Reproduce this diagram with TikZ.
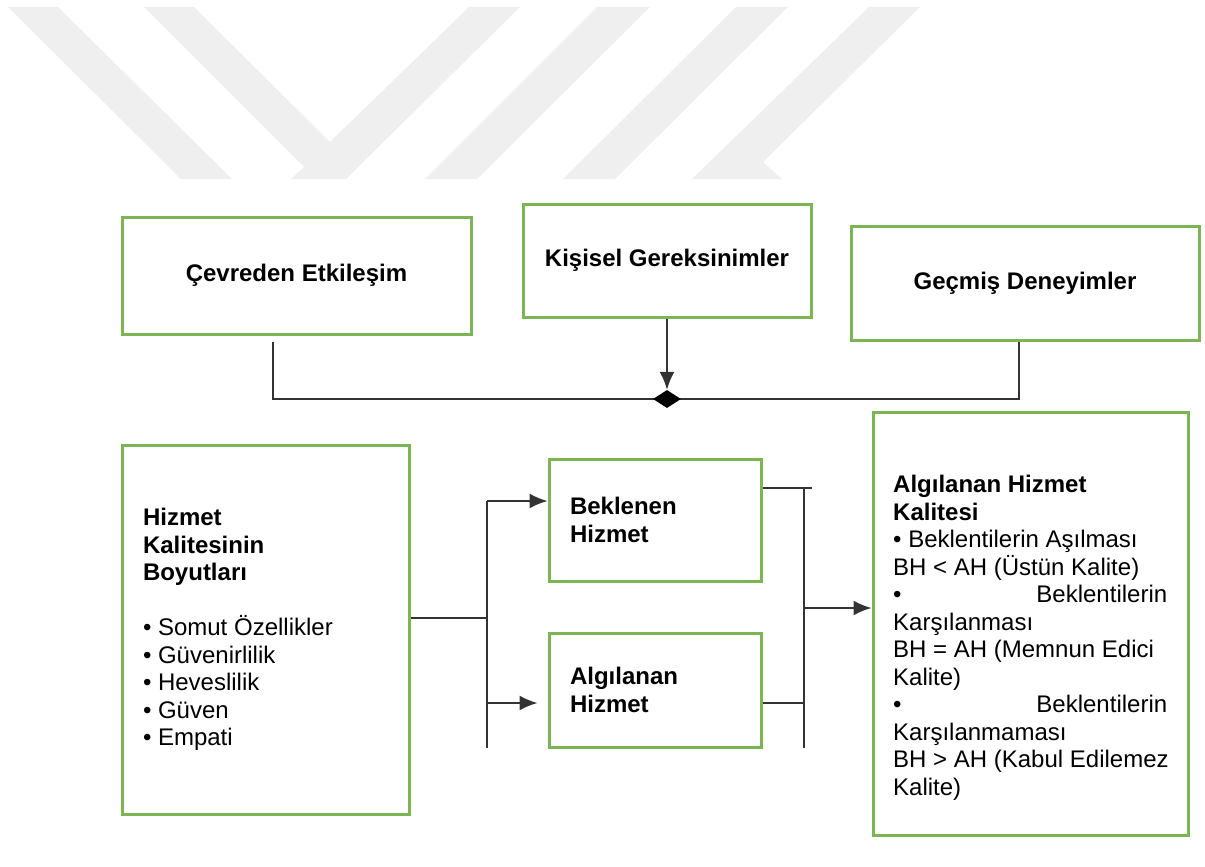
\documentclass[tikz,border=0pt]{standalone}
\usepackage{fontspec}
\setmainfont{Liberation Sans}
\usetikzlibrary{arrows.meta,shapes.geometric}
\definecolor{kutuyesil}{RGB}{122,182,82}
\definecolor{filigran}{RGB}{239,239,239}
\tikzset{
    kutu/.style={draw=kutuyesil, line width=3pt, rectangle, inner sep=0pt},
    yazi/.style={font=\fontsize{24}{27.5}\selectfont},
    baglanti/.style={draw=black!80, line width=1.8pt},
    ok/.style={baglanti, -{Latex[length=18pt,width=15pt]}}
}
\newcommand{\yayik}[1]{\makebox[274pt][s]{#1}}

\begin{document}
\begin{tikzpicture}[x=1pt,y=-1pt]
    \useasboundingbox (0,0) rectangle (1205,867);
    \fill[filigran] (8,7) -- (58,7) -- (232,179) -- (181,179) -- cycle;
    \fill[filigran] (144,7) -- (194,7) -- (330,142) -- (469,7) -- (520,7) -- (346,179) -- (291,179) -- (304,167) -- cycle;
    \fill[filigran] (597,7) -- (650,7) -- (477,179) -- (425,179) -- cycle;
    \fill[filigran] (736,7) -- (788,7) -- (615,179) -- (563,179) -- cycle;
    \fill[filigran] (869,7) -- (920,7) -- (763,162) -- (782,179) -- (692,179) -- cycle;

    \node[kutu, yazi, minimum width=349pt, minimum height=117pt] (cevre) at (296.5,275.5) {\textbf{Çevreden Etkileşim}};
    \node[kutu, yazi, minimum width=288pt, minimum height=113pt] (kisisel) at (667,260.5) {\textbf{Kişisel Gereksinimler}};
    \node[kutu, yazi, minimum width=348pt, minimum height=114pt] (gecmis) at (1025,283) {\textbf{Geçmiş Deneyimler}};

    \node[kutu, yazi, minimum width=287pt, minimum height=369pt, text width=245pt, align=flush left] (boyut) at (265.5,629.5)
        {\textbf{Hizmet}\\ \textbf{Kalitesinin}\\ \textbf{Boyutları}\\[27.5pt]
         \textbullet{} Somut Özellikler\\ \textbullet{} Güvenirlilik\\ \textbullet{} Heveslilik\\ \textbullet{} Güven\\ \textbullet{} Empati};
    \node[kutu, yazi, minimum width=212pt, minimum height=122pt, text width=170pt, align=flush left] (beklenen) at (655,520)
        {\textbf{Beklenen}\\ \textbf{Hizmet}};
    \node[kutu, yazi, minimum width=212pt, minimum height=114pt, text width=170pt, align=flush left] (algilanan) at (655,690)
        {\textbf{Algılanan}\\ \textbf{Hizmet}};
    \node[kutu, minimum width=315pt, minimum height=423pt] (kalite) at (1030.5,623.5) {};
    \node[yazi, anchor=north west, inner sep=0pt, text width=278pt, align=flush left] (kalitemetin) at (893,475)
        {\textbf{Algılanan Hizmet}\\ \textbf{Kalitesi}\\
         \textbullet{} Beklentilerin Aşılması\\ BH < AH (Üstün Kalite)\\
         \yayik{\textbullet\hfill Beklentilerin}\\ Karşılanması\\ BH = AH (Memnun Edici\\ Kalite)\\
         \yayik{\textbullet\hfill Beklentilerin}\\ Karşılanmaması\\ BH > AH (Kabul Edilemez\\ Kalite)};

    \coordinate (cevrealt) at (273,342);
    \coordinate (hatsol) at (273,399);
    \coordinate (hatsag) at (1019,399);
    \draw[baglanti] (cevrealt) -- (hatsol) -- (hatsag) -- (gecmis.south -| hatsag);
    \node[diamond, fill=black, inner sep=0pt, minimum width=28pt, minimum height=18pt] (birlesim) at (667,399) {};
    \draw[ok] (kisisel.south) -- (birlesim.north);

    \coordinate (catal) at (487,618);
    \coordinate (catalust) at (487,501);
    \coordinate (catalalt) at (487,748);
    \coordinate (algok) at (487,703);
    \draw[baglanti] (boyut.east |- catal) -- (catal);
    \draw[baglanti] (catalust) -- (catalalt);
    \draw[ok] (catalust) -- (beklenen.west |- catalust);
    \draw[ok, shorten >=10pt] (algok) -- (algilanan.west |- algok);

    \coordinate (toplaust) at (804,488);
    \coordinate (toplaalt) at (804,748);
    \coordinate (topla) at (804,608);
    \coordinate (algcikis) at (804,703);
    \draw[baglanti] (beklenen.east |- toplaust) -- ++(49,0);
    \draw[baglanti] (toplaust) -- (toplaalt);
    \draw[baglanti] (algilanan.east |- algcikis) -- (algcikis);
    \draw[ok] (topla) -- (kalite.west |- topla);
\end{tikzpicture}
\end{document}
